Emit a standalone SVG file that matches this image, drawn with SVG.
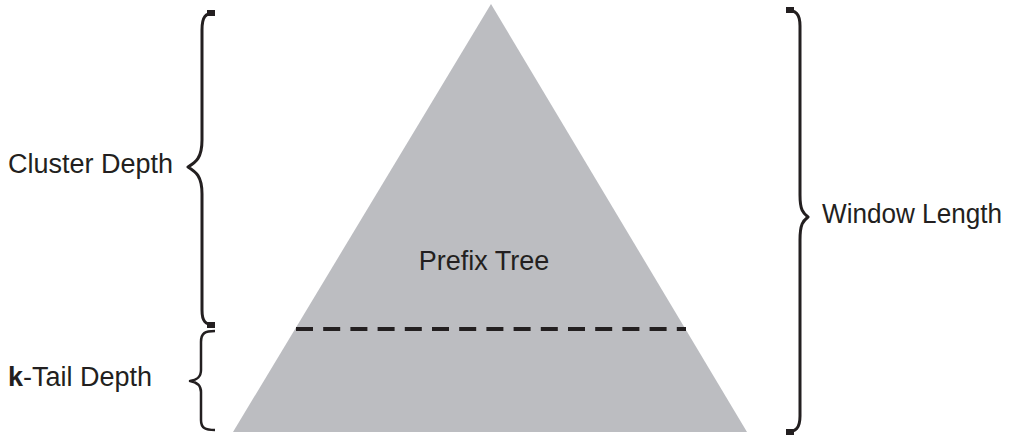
<svg xmlns="http://www.w3.org/2000/svg" width="1018" height="437" viewBox="0 0 1018 437">
  <style>
    .label { font-family: "Liberation Sans", Arial, sans-serif; font-size: 27px; fill: #231f20; }
    .brace { fill: none; stroke: #231f20; stroke-linecap: butt; stroke-linejoin: round; }
    .tip { stroke: #231f20; stroke-width: 6; stroke-linecap: butt; }
  </style>
  <rect width="1018" height="437" fill="#ffffff"/>

  <!-- prefix tree body -->
  <g id="prefix-tree">
    <polygon points="491,4 747,432 233,432" fill="#bcbdc1"/>
    <line x1="296" y1="329" x2="686" y2="329" stroke="#231f20" stroke-width="4" stroke-dasharray="17 10.2"/>
    <text class="label" x="484" y="270" text-anchor="middle">Prefix Tree</text>
  </g>

  <!-- bracket annotations -->
  <g id="connectors">
    <path class="brace" stroke-width="3" d="M215,13 C205,13 202,17 202,30 L202,140 C202,158 196,162 188,167 C196,172 202,176 202,194 L202,310 C202,321 205,325 215,325"/>
    <line class="tip" x1="207" y1="13" x2="215" y2="13"/>
    <line class="tip" x1="207" y1="325" x2="215" y2="325"/>

    <path class="brace" stroke-width="2.5" d="M215,331 C205,331 201,333 201,342 L201,370 C201,378 196,380 190,381 C196,382 201,385 201,392 L201,420 C201,428 205,430 215,430"/>

    <path class="brace" stroke-width="3" d="M786,10 C796,10 800,14 800,26 L800,195 C800,210 803,213 808,217 C803,221 800,224 800,240 L800,416 C800,428 796,432 786,432"/>
    <line class="tip" x1="786" y1="10" x2="794" y2="10"/>
    <line class="tip" x1="786" y1="432" x2="794" y2="432"/>
  </g>

  <g id="cluster-depth">
    <text class="label" x="8" y="173">Cluster Depth</text>
  </g>
  <g id="k-tail-depth">
    <text class="label" x="8" y="386"><tspan font-weight="bold">k</tspan>-Tail Depth</text>
  </g>
  <g id="window-length">
    <text class="label" x="822" y="223" textLength="180" lengthAdjust="spacingAndGlyphs">Window Length</text>
  </g>
</svg>
